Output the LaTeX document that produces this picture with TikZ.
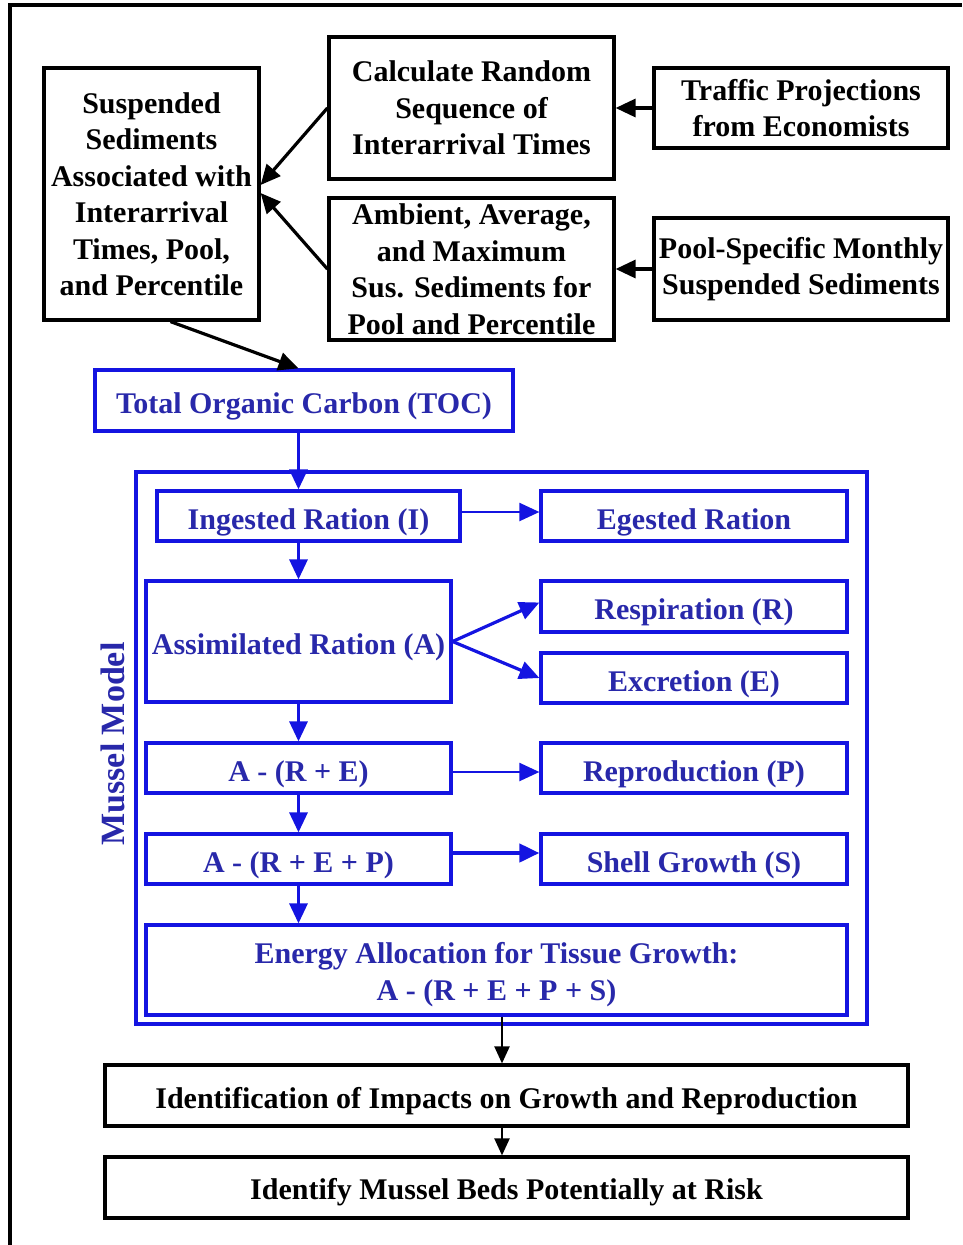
\documentclass[tikz,border=0pt]{standalone}
\usepackage{fontspec}
\setmainfont{Liberation Serif}
\usetikzlibrary{arrows.meta,calc}
\definecolor{bl}{RGB}{20,20,225}
\definecolor{bltext}{RGB}{40,40,170}
\begin{document}
\begin{tikzpicture}[x=1pt,y=-1pt,
  bx/.style={draw, line width=3.2pt, inner sep=0pt, align=center,
    font=\fontsize{30}{36.5}\selectfont\bfseries},
  one/.style={text height=26pt, text depth=0pt},
  bbox/.style={bx, draw=bl, text=bltext},
  arr/.style={line width=3.2pt, -{Triangle[length=20pt,width=18pt]}},
  barr/.style={arr, draw=bl, fill=bl},
  karr/.style={line width=2.2pt, -{Triangle[length=17pt,width=15pt]}},
]
\useasboundingbox (0,0) rectangle (962,1245);
\draw[line width=3.5pt] (10,1245) -- (10,5) -- (962,5);

% top black boxes
\node[bx, minimum width=215pt, minimum height=252pt] (susp) at (151.5,194)
  {Suspended\\Sediments\\Associated with\\Interarrival\\Times, Pool,\\and Percentile};
\node[bx, minimum width=285pt, minimum height=142pt] (calc) at (471.5,108)
  {Calculate Random\\Sequence of\\Interarrival Times};
\node[bx, minimum width=285pt, minimum height=142pt] (amb) at (471.5,269)
  {Ambient, Average,\\and Maximum\\Sus. Sediments for\\Pool and Percentile};
\node[bx, minimum width=294pt, minimum height=80pt] (traf) at (801,108)
  {Traffic Projections\\from Economists};
\node[bx, minimum width=294pt, minimum height=102pt] (pool) at (801,269)
  {Pool-Specific Monthly\\Suspended Sediments};

% blue part
\node[bbox, one, minimum width=418pt, minimum height=61pt] (toc) at (304,400.5)
  {Total Organic Carbon (TOC)};
\node[draw=bl, line width=3.2pt, inner sep=0pt, minimum width=731pt, minimum height=552pt] (frame) at (501.5,748) {};
\node[rotate=90, text=bltext, font=\fontsize{34}{40}\selectfont\bfseries] (lbl) at (113,744) {Mussel Model};

\node[bbox, one, minimum width=303pt, minimum height=50pt] (ing) at (308.5,516) {Ingested Ration (I)};
\node[bbox, one, minimum width=306pt, minimum height=50pt] (ege) at (694,516) {Egested Ration};
\node[bbox, one, minimum width=305pt, minimum height=121pt] (assim) at (298.5,641.5) {Assimilated Ration (A)};
\node[bbox, one, minimum width=306pt, minimum height=51pt] (resp) at (694,606.5) {Respiration (R)};
\node[bbox, one, minimum width=306pt, minimum height=50pt] (exc) at (694,678) {Excretion (E)};
\node[bbox, one, minimum width=305pt, minimum height=50pt] (are) at (298.5,768) {A - (R + E)};
\node[bbox, one, minimum width=306pt, minimum height=50pt] (rep) at (694,768) {Reproduction (P)};
\node[bbox, one, minimum width=305pt, minimum height=50pt] (arep) at (298.5,859) {A - (R + E + P)};
\node[bbox, one, minimum width=306pt, minimum height=50pt] (shell) at (694,859) {Shell Growth (S)};
\node[bbox, text height=67pt, minimum width=701pt, minimum height=90pt] (energy) at (496.5,970)
  {Energy Allocation for Tissue Growth:\\A - (R + E + P + S)};

% bottom black boxes
\node[bx, one, minimum width=803pt, minimum height=61pt] (ident) at (506.5,1095.5)
  {Identification of Impacts on Growth and Reproduction};
\node[bx, text height=24pt, text depth=0pt, minimum width=803pt, minimum height=61pt] (beds) at (506.5,1187.5)
  {Identify Mussel Beds Potentially at Risk};
\coordinate (mid) at (502,1040);

% black arrows
\draw[arr] (calc.west) -- ($(susp.east)+(0,-9)$);
\draw[arr] (amb.west) -- ($(susp.east)+(0,-1)$);
\draw[arr] (traf.west) -- (calc.east);
\draw[arr] (pool.west) -- (amb.east);
\draw[arr] ($(susp.south)+(19,0)$) -- (toc.north -| assim.center);

% blue arrows
\draw[barr] (toc.south -| assim.center) -- (ing.north -| assim.center);
\draw[barr] (ing.south -| assim.center) -- (assim.north);
\draw[barr, line width=2.2pt] ($(ing.east)+(0,-4)$) -- ($(ege.west)+(0,-4)$);
\draw[barr] (assim.east) -- ($(resp.west)+(0,-4)$);
\draw[barr] (assim.east) -- (exc.west);
\draw[barr] (assim.south) -- (are.north);
\draw[barr, line width=2.2pt] ($(are.east)+(0,4)$) -- ($(rep.west)+(0,4)$);
\draw[barr] (are.south) -- (arep.north);
\draw[barr, line width=4.2pt] ($(arep.east)+(0,-6)$) -- ($(shell.west)+(0,-6)$);
\draw[barr] (arep.south) -- (energy.north -| arep.south);

% bottom arrows
\draw[karr] (energy.south -| mid) -- (ident.north -| mid);
\draw[karr] (ident.south -| mid) -- (beds.north -| mid);
\end{tikzpicture}
\end{document}
